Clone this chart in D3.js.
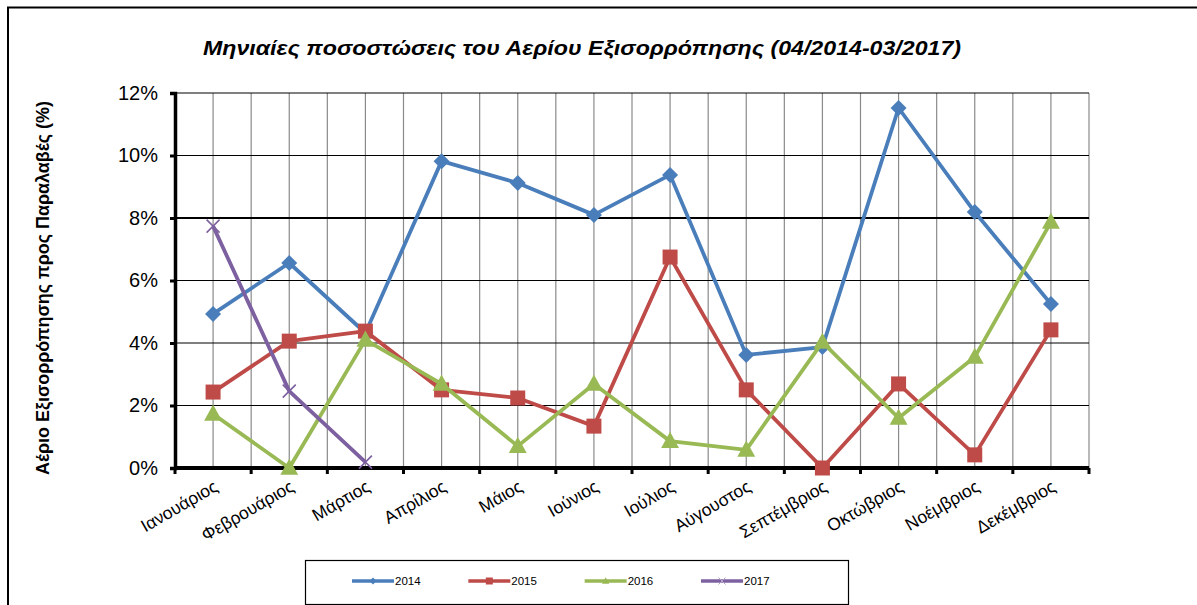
<!DOCTYPE html>
<html>
<head>
<meta charset="utf-8">
<script src="https://cdn.jsdelivr.net/npm/d3@7"></script>
<style>
  body { margin: 0; background: #fff; }
  svg { display: block; font-family: Arial, "Liberation Sans", sans-serif; }
</style>
</head>
<body>
<svg id="chart" width="1197" height="605"></svg>
<script>
// DATA
const months = ["Ιανουάριος", "Φεβρουάριος", "Μάρτιος", "Απρίλιος", "Μάιος", "Ιούνιος",
  "Ιούλιος", "Αύγουστος", "Σεπτέμβριος", "Οκτώβριος", "Νοέμβριος", "Δεκέμβριος"];
const years = ["2014", "2015", "2016", "2017"];
const v2014 = [4.93, 6.56, 4.32, 9.82, 9.12, 8.1, 9.38, 3.62, 3.87, 11.52, 8.19, 5.25];
const v2015 = [2.43, 4.06, 4.38, 2.5, 2.24, 1.34, 6.75, 2.5, 0, 2.69, 0.42, 4.42];
const v2016 = [1.73, 0, 4.1, 2.69, 0.7, 2.69, 0.86, 0.58, 4.03, 1.6, 3.55, 7.87];
const v2017 = [7.74, 2.46, 0.19];
const yTicks = [0, 2, 4, 6, 8, 10, 12];

const colors = {"2014": "#4a7ebb", "2015": "#be4b48", "2016": "#98b954", "2017": "#7d60a0"};
const symbols = {"2014": "diamond", "2015": "square", "2016": "triangle", "2017": "x"};
const seriesVals = {"2014": v2014, "2015": v2015, "2016": v2016, "2017": v2017};

const margin = {top: 93, left: 175, right: 108, bottom: 137};
const width = 1197 - margin.left - margin.right;
const height = 605 - margin.top - margin.bottom;

const svg = d3.select('#chart');

// outer frame (only top and left edges are in view)
svg.append('path')
  .attr('d', 'M8,605 L8,7.5 L1197,7.5')
  .attr('fill', 'none').attr('stroke', '#000').attr('stroke-width', 2);

// TITLE
svg.append('text')
  .attr('x', 582).attr('y', 55)
  .attr('text-anchor', 'middle')
  .attr('font-size', '21px')
  .attr('font-weight', 'bold')
  .attr('font-style', 'italic')
  .attr('textLength', 758)
  .attr('lengthAdjust', 'spacingAndGlyphs')
  .text('Μηνιαίες ποσοστώσεις του Αερίου Εξισορρόπησης (04/2014-03/2017)');

// Y LABEL
svg.append('text')
  .attr('transform', 'translate(49,288) rotate(-90)')
  .attr('text-anchor', 'middle')
  .attr('font-size', '18.5px')
  .attr('font-weight', 'bold')
  .attr('textLength', 374)
  .attr('lengthAdjust', 'spacingAndGlyphs')
  .text('Αέριο Εξισορρόπησης προς Παραλαβές (%)');

const g = svg.append('g').attr('transform', `translate(${margin.left},${margin.top})`);

// SCALES
const x = d3.scaleBand().domain(months).range([0, width]).padding(0);
const cx = d => x(d) + x.bandwidth() / 2;
const y = d3.scaleLinear().domain([0, 12]).range([height, 0]);

// VERTICAL GRID (band centres and band edges)
const vLines = [];
months.forEach(m => { vLines.push(x(m)); vLines.push(cx(m)); });
vLines.push(width);
g.append('g').selectAll('line').data(vLines.filter(v => v > 0)).join('line')
  .attr('x1', d => d).attr('x2', d => d)
  .attr('y1', 0).attr('y2', height)
  .attr('stroke', '#8a8a8a').attr('stroke-width', 1.2);

// HORIZONTAL GRID
g.append('g').selectAll('line').data(yTicks.filter(t => t > 0)).join('line')
  .attr('x1', 0).attr('x2', width)
  .attr('y1', d => y(d)).attr('y2', d => y(d))
  .attr('stroke', '#000').attr('stroke-width', d => d === 8 ? 2 : 1);

// Y AXIS
const yAxis = g.append('g')
  .call(d3.axisLeft(y).tickValues(yTicks).tickFormat(d => d + '%').tickSize(5).tickPadding(12));
yAxis.select('.domain').attr('stroke-width', 3.5);
yAxis.selectAll('.tick line').attr('stroke-width', 3);
yAxis.selectAll('text').attr('font-size', '20px').attr('fill', '#000')
  .attr('font-family', 'Arial, "Liberation Sans", sans-serif');

// X AXIS
const xAxis = g.append('g').attr('transform', `translate(0,${height})`);
xAxis.append('line').attr('x1', 0).attr('x2', width).attr('stroke', '#000').attr('stroke-width', 4);
xAxis.selectAll('.tk').data(months.map(m => x(m)).concat([width])).join('line')
  .attr('class', 'tk')
  .attr('x1', d => d).attr('x2', d => d).attr('y1', 0).attr('y2', 6)
  .attr('stroke', '#000').attr('stroke-width', 3);
xAxis.selectAll('.lbl').data(months).join('text')
  .attr('class', 'lbl')
  .attr('transform', d => `translate(${cx(d) + 6},${22}) rotate(-30)`)
  .attr('text-anchor', 'end')
  .attr('font-size', '17.5px')
  .text(d => d);

// MARKERS
function markerPath(type, s) {
  if (type === 'diamond') return `M0,${-s}L${s},0L0,${s}L${-s},0Z`;
  if (type === 'square') return `M${-s},${-s}H${s}V${s}H${-s}Z`;
  if (type === 'triangle') return `M0,${-s * 1.1}L${s * 1.05},${s * 0.8}L${-s * 1.05},${s * 0.8}Z`;
  return `M${-s},${-s}L${s},${s}M${-s},${s}L${s},${-s}`;
}
const markerSize = {"2014": 8, "2015": 7.5, "2016": 8.5, "2017": 6.5};

// LINES
const line = d3.line().x((d, i) => cx(months[i])).y(d => y(d));
years.forEach(yr => {
  const vals = seriesVals[yr];
  const sg = g.append('g');
  sg.append('path')
    .datum(vals)
    .attr('fill', 'none')
    .attr('stroke', colors[yr])
    .attr('stroke-width', 3.8)
    .attr('stroke-linejoin', 'round')
    .attr('d', line);
  sg.selectAll('path.m').data(vals).join('path')
    .attr('class', 'm')
    .attr('transform', (d, i) => `translate(${cx(months[i])},${y(d)})`)
    .attr('d', markerPath(symbols[yr], markerSize[yr]))
    .attr('fill', symbols[yr] === 'x' ? 'none' : colors[yr])
    .attr('stroke', colors[yr])
    .attr('stroke-width', symbols[yr] === 'x' ? 1.6 : 0);
});

// LEGEND
const lg = svg.append('g');
lg.append('rect')
  .attr('x', 305.5).attr('y', 560.5).attr('width', 543).attr('height', 44)
  .attr('fill', '#fff').attr('stroke', '#000').attr('stroke-width', 1.2);
const lx = d3.scalePoint().domain(years).range([352, 701]);
years.forEach(yr => {
  const li = lg.append('g').attr('transform', `translate(${lx(yr)},581)`);
  li.append('line').attr('x1', 0).attr('x2', 42)
    .attr('stroke', colors[yr]).attr('stroke-width', 3.5);
  li.append('path')
    .attr('transform', 'translate(21,0)')
    .attr('d', markerPath(symbols[yr], 3.5))
    .attr('fill', symbols[yr] === 'x' ? 'none' : colors[yr])
    .attr('stroke', symbols[yr] === 'x' ? '#b3a2c7' : colors[yr])
    .attr('stroke-width', symbols[yr] === 'x' ? 1 : 0);
  li.append('text').attr('x', 43).attr('y', 4)
    .attr('font-size', '11.5px')
    .text(yr);
});
</script>
</body>
</html>
